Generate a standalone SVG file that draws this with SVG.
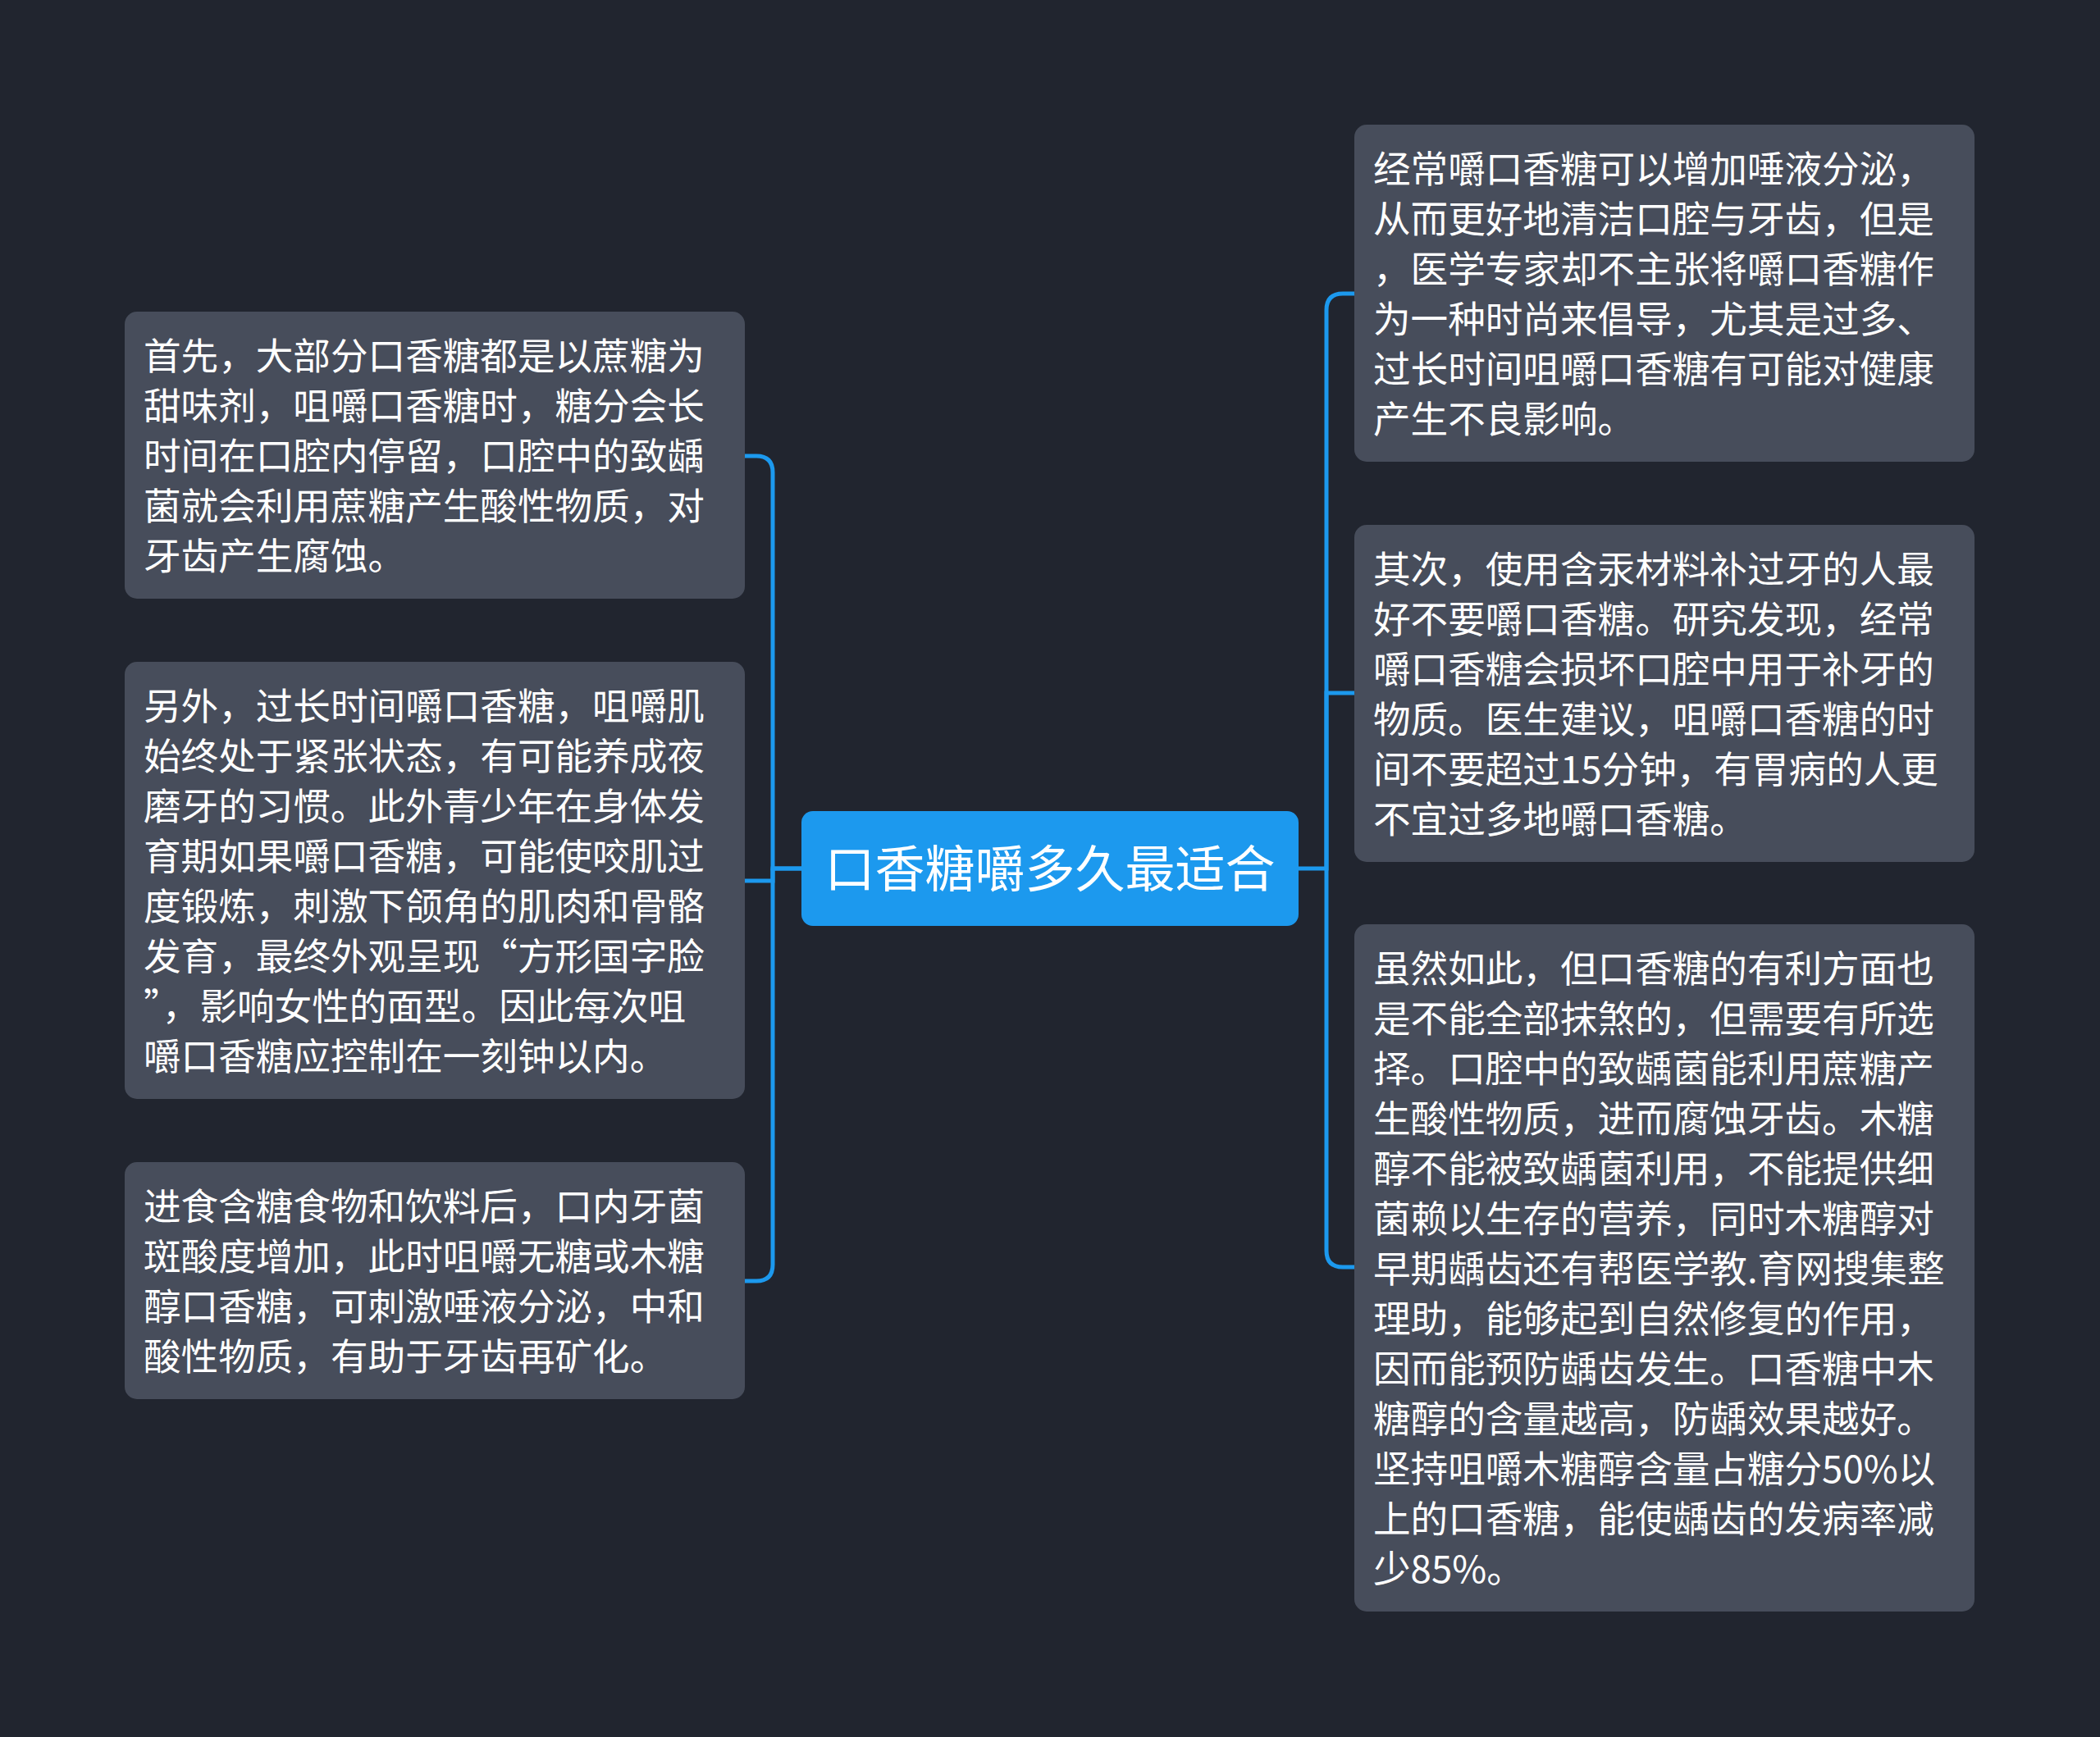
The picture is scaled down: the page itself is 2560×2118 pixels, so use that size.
<svg xmlns="http://www.w3.org/2000/svg" width="2560" height="2118" viewBox="0 0 2560 2118">
<style>
.bg{fill:#21252f}
.node{fill:#474d5b}
.root{fill:#1c99ee}
.t{font-family:"Noto Sans CJK SC","Noto Sans",sans-serif;font-size:45.6px;fill:#ffffff}
.rt{font-family:"Noto Sans CJK SC","Noto Sans",sans-serif;font-size:61px;fill:#ffffff}
.c{fill:none;stroke:#1c99ee;stroke-width:5}
</style>
<rect class="bg" x="0" y="0" width="2560" height="2118"/>
<g id="connectors">
<path class="c" d="M977,1059 H942 V576 Q942,556 922,556 H908"/>
<path class="c" d="M977,1059 H942 V1074 H908"/>
<path class="c" d="M942,1059 V1542 Q942,1562 922,1562 H908"/>
<path class="c" d="M1583,1059 H1617 V378 Q1617,358 1637,358 H1651"/>
<path class="c" d="M1617,1059 V845 H1651"/>
<path class="c" d="M1617,1059 V1525 Q1617,1545 1637,1545 H1651"/>
</g>
<g id="root">
<rect class="root" x="977" y="989" width="606" height="140" rx="14"/>
<text class="rt" x="1280" y="1082" text-anchor="middle">口香糖嚼多久最适合</text>
</g>
<g id="left1">
<rect class="node" x="152" y="380" width="756" height="350" rx="15"/>
<text class="t"><tspan x="175" y="450.5">首先，大部分口香糖都是以蔗糖为</tspan><tspan x="175" y="511.5">甜味剂，咀嚼口香糖时，糖分会长</tspan><tspan x="175" y="572.5">时间在口腔内停留，口腔中的致龋</tspan><tspan x="175" y="633.5">菌就会利用蔗糖产生酸性物质，对</tspan><tspan x="175" y="694.5">牙齿产生腐蚀。</tspan></text>
</g>
<g id="left2">
<rect class="node" x="152" y="807" width="756" height="533" rx="15"/>
<text class="t"><tspan x="175" y="877.5">另外，过长时间嚼口香糖，咀嚼肌</tspan><tspan x="175" y="938.5">始终处于紧张状态，有可能养成夜</tspan><tspan x="175" y="999.5">磨牙的习惯。此外青少年在身体发</tspan><tspan x="175" y="1060.5">育期如果嚼口香糖，可能使咬肌过</tspan><tspan x="175" y="1121.5">度锻炼，刺激下颌角的肌肉和骨骼</tspan><tspan x="175" y="1182.5">发育，最终外观呈现“方形国字脸</tspan><tspan x="175" y="1243.5">”，影响女性的面型。因此每次咀</tspan><tspan x="175" y="1304.5">嚼口香糖应控制在一刻钟以内。</tspan></text>
</g>
<g id="left3">
<rect class="node" x="152" y="1417" width="756" height="289" rx="15"/>
<text class="t"><tspan x="175" y="1487.5">进食含糖食物和饮料后，口内牙菌</tspan><tspan x="175" y="1548.5">斑酸度增加，此时咀嚼无糖或木糖</tspan><tspan x="175" y="1609.5">醇口香糖，可刺激唾液分泌，中和</tspan><tspan x="175" y="1670.5">酸性物质，有助于牙齿再矿化。</tspan></text>
</g>
<g id="right1">
<rect class="node" x="1651" y="152" width="756" height="411" rx="15"/>
<text class="t"><tspan x="1674" y="222.5">经常嚼口香糖可以增加唾液分泌，</tspan><tspan x="1674" y="283.5">从而更好地清洁口腔与牙齿，但是</tspan><tspan x="1674" y="344.5">，医学专家却不主张将嚼口香糖作</tspan><tspan x="1674" y="405.5">为一种时尚来倡导，尤其是过多、</tspan><tspan x="1674" y="466.5">过长时间咀嚼口香糖有可能对健康</tspan><tspan x="1674" y="527.5">产生不良影响。</tspan></text>
</g>
<g id="right2">
<rect class="node" x="1651" y="640" width="756" height="411" rx="15"/>
<text class="t"><tspan x="1674" y="710.5">其次，使用含汞材料补过牙的人最</tspan><tspan x="1674" y="771.5">好不要嚼口香糖。研究发现，经常</tspan><tspan x="1674" y="832.5">嚼口香糖会损坏口腔中用于补牙的</tspan><tspan x="1674" y="893.5">物质。医生建议，咀嚼口香糖的时</tspan><tspan x="1674" y="954.5">间不要超过15分钟，有胃病的人更</tspan><tspan x="1674" y="1015.5">不宜过多地嚼口香糖。</tspan></text>
</g>
<g id="right3">
<rect class="node" x="1651" y="1127" width="756" height="838" rx="15"/>
<text class="t"><tspan x="1674" y="1197.5">虽然如此，但口香糖的有利方面也</tspan><tspan x="1674" y="1258.5">是不能全部抹煞的，但需要有所选</tspan><tspan x="1674" y="1319.5">择。口腔中的致龋菌能利用蔗糖产</tspan><tspan x="1674" y="1380.5">生酸性物质，进而腐蚀牙齿。木糖</tspan><tspan x="1674" y="1441.5">醇不能被致龋菌利用，不能提供细</tspan><tspan x="1674" y="1502.5">菌赖以生存的营养，同时木糖醇对</tspan><tspan x="1674" y="1563.5">早期龋齿还有帮医学教.育网搜集整</tspan><tspan x="1674" y="1624.5">理助，能够起到自然修复的作用，</tspan><tspan x="1674" y="1685.5">因而能预防龋齿发生。口香糖中木</tspan><tspan x="1674" y="1746.5">糖醇的含量越高，防龋效果越好。</tspan><tspan x="1674" y="1807.5">坚持咀嚼木糖醇含量占糖分50%以</tspan><tspan x="1674" y="1868.5">上的口香糖，能使龋齿的发病率减</tspan><tspan x="1674" y="1929.5">少85%。</tspan></text>
</g>
</svg>
